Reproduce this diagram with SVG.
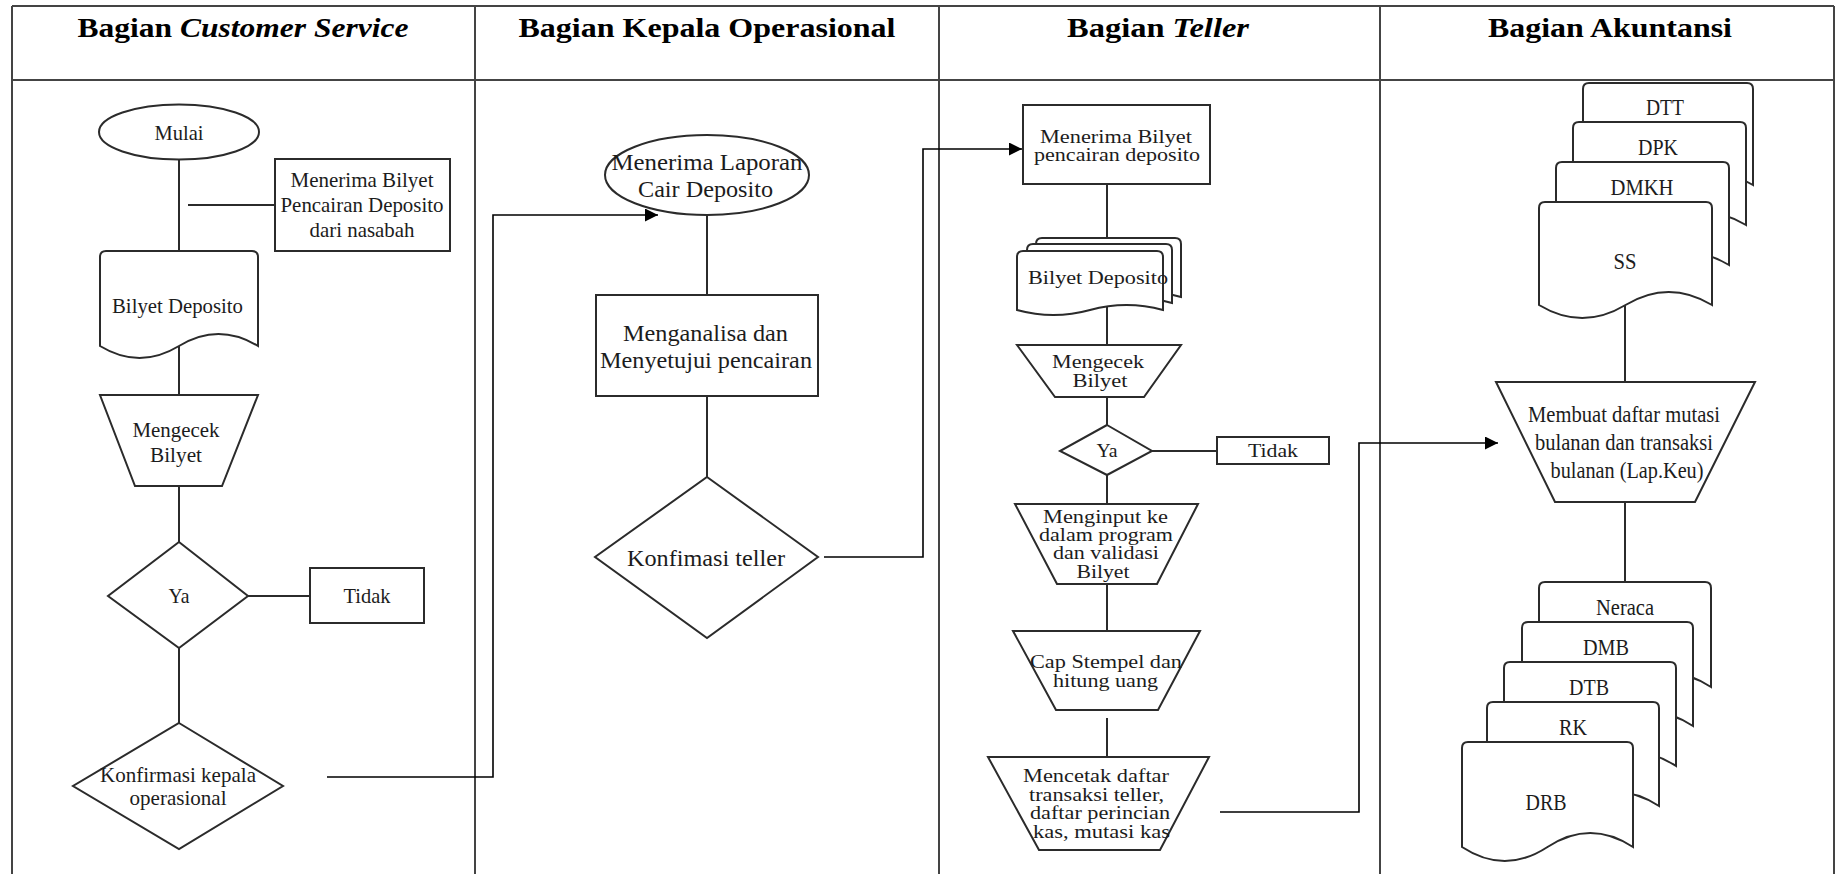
<svg xmlns="http://www.w3.org/2000/svg" width="1841" height="874" viewBox="0 0 1841 874">
  <style>
    .shape { fill: #fff; stroke: #2b2b2b; stroke-width: 2; }
    .line { fill: none; stroke: #2b2b2b; stroke-width: 2; }
    .conn { fill: none; stroke: #000; stroke-width: 1.6; }
    .grid { fill: none; stroke: #444; stroke-width: 2; }
    .t { font-family: "Liberation Serif", "Times New Roman", serif; fill: #1c1c1c; text-anchor: middle; }
    .h { font-family: "Liberation Serif", "Times New Roman", serif; font-weight: bold; font-size: 27px; fill: #000; text-anchor: middle; }
    .cs { font-size: 21px; }
    .ko { font-size: 24px; }
    .tl { font-size: 18px; }
    .ak { font-size: 23px; }
  </style>
  <defs>
    <marker id="arrow" viewBox="0 0 10 10" refX="10" refY="5" markerWidth="10" markerHeight="9" markerUnits="userSpaceOnUse" orient="auto">
      <path d="M0,0 L10,5 L0,10 Z" fill="#000"/>
    </marker>
    <marker id="arrowBig" viewBox="0 0 10 10" refX="10" refY="5" markerWidth="16" markerHeight="13" markerUnits="userSpaceOnUse" orient="auto">
      <path d="M0,0 L10,5 L0,10 Z" fill="#000"/>
    </marker>
  </defs>

  <rect width="1841" height="874" fill="#fff"/>

  <!-- swimlane table -->
  <g id="table">
    <line class="grid" x1="12" y1="6" x2="1834" y2="6"/>
    <line class="grid" x1="12" y1="80" x2="1834" y2="80"/>
    <line class="grid" x1="12" y1="6" x2="12" y2="874"/>
    <line class="grid" x1="475" y1="6" x2="475" y2="874"/>
    <line class="grid" x1="939" y1="6" x2="939" y2="874"/>
    <line class="grid" x1="1380" y1="6" x2="1380" y2="874"/>
    <line class="grid" x1="1834" y1="6" x2="1834" y2="874"/>
    <text class="h" x="243" y="37" textLength="331" lengthAdjust="spacingAndGlyphs">Bagian <tspan font-style="italic">Customer Service</tspan></text>
    <text class="h" x="707" y="37" textLength="377" lengthAdjust="spacingAndGlyphs">Bagian Kepala Operasional</text>
    <text class="h" x="1158" y="37" textLength="182" lengthAdjust="spacingAndGlyphs">Bagian <tspan font-style="italic">Teller</tspan></text>
    <text class="h" x="1610" y="37" textLength="244" lengthAdjust="spacingAndGlyphs">Bagian Akuntansi</text>
  </g>

  <!-- connectors -->
  <g id="connectors">
    <!-- customer service lane -->
    <line class="line" x1="179" y1="160" x2="179" y2="251"/>
    <line class="line" x1="188" y1="205" x2="275" y2="205"/>
    <line class="line" x1="179" y1="346" x2="179" y2="395"/>
    <line class="line" x1="179" y1="486" x2="179" y2="542"/>
    <line class="line" x1="248" y1="596" x2="310" y2="596"/>
    <line class="line" x1="179" y1="648" x2="179" y2="723"/>
    <!-- kepala operasional lane -->
    <line class="line" x1="707" y1="215" x2="707" y2="295"/>
    <line class="line" x1="707" y1="396" x2="707" y2="477"/>
    <!-- teller lane -->
    <line class="line" x1="1107" y1="184" x2="1107" y2="238"/>
    <line class="line" x1="1107" y1="307" x2="1107" y2="345"/>
    <line class="line" x1="1107" y1="397" x2="1107" y2="425"/>
    <line class="line" x1="1152" y1="451" x2="1217" y2="451"/>
    <line class="line" x1="1107" y1="475" x2="1107" y2="504"/>
    <line class="line" x1="1107" y1="584" x2="1107" y2="631"/>
    <line class="line" x1="1107" y1="718" x2="1107" y2="757"/>
    <!-- akuntansi lane -->
    <line class="line" x1="1625" y1="305" x2="1625" y2="382"/>
    <line class="line" x1="1625" y1="502" x2="1625" y2="582"/>
    <!-- cross-lane flows -->
    <path class="conn" d="M327,777 H493 V215 H658" marker-end="url(#arrowBig)"/>
    <path class="conn" d="M824,557 H923 V149 H1022" marker-end="url(#arrowBig)"/>
    <path class="conn" d="M1220,812 H1359 V443 H1498" marker-end="url(#arrowBig)"/>
  </g>

  <!-- Bagian Customer Service -->
  <g id="cs-mulai">
    <ellipse class="shape" cx="179" cy="132" rx="80" ry="27.5"/>
    <text class="t cs" x="179" y="140" textLength="49" lengthAdjust="spacingAndGlyphs">Mulai</text>
  </g>
  <g id="cs-terima">
    <rect class="shape" x="275" y="159" width="175" height="92"/>
    <text class="t cs" x="362" y="187" textLength="143" lengthAdjust="spacingAndGlyphs">Menerima Bilyet</text>
    <text class="t cs" x="362" y="212" textLength="163" lengthAdjust="spacingAndGlyphs">Pencairan Deposito</text>
    <text class="t cs" x="362" y="237" textLength="105" lengthAdjust="spacingAndGlyphs">dari nasabah</text>
  </g>
  <g id="cs-bilyet">
    <path class="shape" d="M100,346 V257 Q100,251 106,251 H252 Q258,251 258,257 V346 Q218.5,322 179,346 T100,346 Z"/>
    <text class="t cs" x="177.5" y="313" textLength="131" lengthAdjust="spacingAndGlyphs">Bilyet Deposito</text>
  </g>
  <g id="cs-cek">
    <path class="shape" d="M100,395 H258 L222,486 H135 Z"/>
    <text class="t cs" x="176" y="437" textLength="87" lengthAdjust="spacingAndGlyphs">Mengecek</text>
    <text class="t cs" x="176" y="462" textLength="52" lengthAdjust="spacingAndGlyphs">Bilyet</text>
  </g>
  <g id="cs-ya">
    <path class="shape" d="M179,542 L248,596 L179,648 L108,596 Z"/>
    <text class="t cs" x="179" y="603" textLength="21" lengthAdjust="spacingAndGlyphs">Ya</text>
  </g>
  <g id="cs-tidak">
    <rect class="shape" x="310" y="568" width="114" height="55"/>
    <text class="t cs" x="367" y="603" textLength="47" lengthAdjust="spacingAndGlyphs">Tidak</text>
  </g>
  <g id="cs-konfirmasi">
    <path class="shape" d="M179,723 L283,786 L179,849 L73,786 Z"/>
    <text class="t cs" x="178" y="782" textLength="156" lengthAdjust="spacingAndGlyphs">Konfirmasi kepala</text>
    <text class="t cs" x="178" y="805" textLength="97" lengthAdjust="spacingAndGlyphs">operasional</text>
  </g>

  <!-- Bagian Kepala Operasional -->
  <g id="ko-laporan">
    <ellipse class="shape" cx="707" cy="175" rx="102" ry="40"/>
    <text class="t ko" x="707" y="170" textLength="191" lengthAdjust="spacingAndGlyphs">Menerima Laporan</text>
    <text class="t ko" x="705.5" y="197" textLength="135" lengthAdjust="spacingAndGlyphs">Cair Deposito</text>
  </g>
  <g id="ko-analisa">
    <rect class="shape" x="596" y="295" width="222" height="101"/>
    <text class="t ko" x="705.5" y="341" textLength="165" lengthAdjust="spacingAndGlyphs">Menganalisa dan</text>
    <text class="t ko" x="706" y="368" textLength="212" lengthAdjust="spacingAndGlyphs">Menyetujui pencairan</text>
  </g>
  <g id="ko-konfirmasi">
    <path class="shape" d="M707,477 L818,557 L707,638 L595,557 Z"/>
    <text class="t ko" x="706" y="566" textLength="158" lengthAdjust="spacingAndGlyphs">Konfimasi teller</text>
  </g>

  <!-- Bagian Teller -->
  <g id="tl-terima">
    <rect class="shape" x="1023" y="105" width="187" height="79"/>
    <text class="t tl" x="1116" y="143" textLength="152" lengthAdjust="spacingAndGlyphs">Menerima Bilyet</text>
    <text class="t tl" x="1117" y="161" textLength="166" lengthAdjust="spacingAndGlyphs">pencairan deposito</text>
  </g>
  <g id="tl-bilyet">
    <path class="shape" d="M1036,297 V244 Q1036,238 1042,238 H1175 Q1181,238 1181,244 V297 Q1144.75,287 1108.5,297 T1036,297 Z"/>
    <path class="shape" d="M1027,303 V250 Q1027,244 1033,244 H1166 Q1172,244 1172,250 V303 Q1135.75,293 1099.5,303 T1027,303 Z"/>
    <path class="shape" d="M1017,310 V257 Q1017,251 1023,251 H1157 Q1163,251 1163,257 V310 Q1126.5,300 1090,310 T1017,310 Z"/>
    <text class="t tl" x="1098" y="284" textLength="140" lengthAdjust="spacingAndGlyphs">Bilyet Deposito</text>
  </g>
  <g id="tl-cek">
    <path class="shape" d="M1017,345 H1181 L1144,397 H1055 Z"/>
    <text class="t tl" x="1098" y="368" textLength="92" lengthAdjust="spacingAndGlyphs">Mengecek</text>
    <text class="t tl" x="1100" y="387" textLength="55" lengthAdjust="spacingAndGlyphs">Bilyet</text>
  </g>
  <g id="tl-ya">
    <path class="shape" d="M1107,425 L1152,451 L1107,475 L1060,451 Z"/>
    <text class="t tl" x="1107" y="457" textLength="21" lengthAdjust="spacingAndGlyphs">Ya</text>
  </g>
  <g id="tl-tidak">
    <rect class="shape" x="1217" y="437" width="112" height="27"/>
    <text class="t tl" x="1273" y="457" textLength="50" lengthAdjust="spacingAndGlyphs">Tidak</text>
  </g>
  <g id="tl-input">
    <path class="shape" d="M1015,504 H1198 L1157,584 H1057 Z"/>
    <text class="t tl" x="1105.5" y="523" textLength="125" lengthAdjust="spacingAndGlyphs">Menginput ke</text>
    <text class="t tl" x="1106" y="541" textLength="134" lengthAdjust="spacingAndGlyphs">dalam program</text>
    <text class="t tl" x="1106" y="559" textLength="106" lengthAdjust="spacingAndGlyphs">dan validasi</text>
    <text class="t tl" x="1103" y="578" textLength="53" lengthAdjust="spacingAndGlyphs">Bilyet</text>
  </g>
  <g id="tl-stempel">
    <path class="shape" d="M1013,631 H1200 L1158,710 H1056 Z"/>
    <text class="t tl" x="1106" y="668" textLength="152" lengthAdjust="spacingAndGlyphs">Cap Stempel dan</text>
    <text class="t tl" x="1105.5" y="687" textLength="105" lengthAdjust="spacingAndGlyphs">hitung uang</text>
  </g>
  <g id="tl-cetak">
    <path class="shape" d="M988,757 H1209 L1160,850 H1039 Z"/>
    <text class="t tl" x="1096" y="782" textLength="146" lengthAdjust="spacingAndGlyphs">Mencetak daftar</text>
    <text class="t tl" x="1096.5" y="801" textLength="135" lengthAdjust="spacingAndGlyphs">transaksi teller,</text>
    <text class="t tl" x="1100" y="819" textLength="140" lengthAdjust="spacingAndGlyphs">daftar perincian</text>
    <text class="t tl" x="1101.5" y="838" textLength="137" lengthAdjust="spacingAndGlyphs">kas, mutasi kas</text>
  </g>

  <!-- Bagian Akuntansi -->
  <g id="ak-dokumen-masuk">
    <path class="shape" d="M1583,185 V89 Q1583,83 1589,83 H1747 Q1753,83 1753,89 V185 Q1710.5,159 1668,185 T1583,185 Z"/>
    <text class="t ak" x="1665" y="115" textLength="38" lengthAdjust="spacingAndGlyphs">DTT</text>
    <path class="shape" d="M1573,225 V128 Q1573,122 1579,122 H1740 Q1746,122 1746,128 V225 Q1702.75,199 1659.5,225 T1573,225 Z"/>
    <text class="t ak" x="1658" y="155" textLength="40" lengthAdjust="spacingAndGlyphs">DPK</text>
    <path class="shape" d="M1556,265 V168 Q1556,162 1562,162 H1723 Q1729,162 1729,168 V265 Q1685.75,239 1642.5,265 T1556,265 Z"/>
    <text class="t ak" x="1642" y="195" textLength="63" lengthAdjust="spacingAndGlyphs">DMKH</text>
    <path class="shape" d="M1539,305 V208 Q1539,202 1545,202 H1706 Q1712,202 1712,208 V305 Q1668.75,279 1625.5,305 T1539,305 Z"/>
    <text class="t ak" x="1625" y="269" textLength="23" lengthAdjust="spacingAndGlyphs">SS</text>
  </g>
  <g id="ak-laporan">
    <path class="shape" d="M1496,382 H1755 L1695,502 H1555 Z"/>
    <text class="t ak" x="1624" y="422" textLength="192" lengthAdjust="spacingAndGlyphs">Membuat daftar mutasi</text>
    <text class="t ak" x="1624" y="450" textLength="178" lengthAdjust="spacingAndGlyphs">bulanan dan transaksi</text>
    <text class="t ak" x="1627" y="478" textLength="153" lengthAdjust="spacingAndGlyphs">bulanan (Lap.Keu)</text>
  </g>
  <g id="ak-dokumen-keluar">
    <path class="shape" d="M1539,687 V588 Q1539,582 1545,582 H1705 Q1711,582 1711,588 V687 Q1668,659 1625,687 T1539,687 Z"/>
    <text class="t ak" x="1625" y="615" textLength="58" lengthAdjust="spacingAndGlyphs">Neraca</text>
    <path class="shape" d="M1522,726 V628 Q1522,622 1528,622 H1687 Q1693,622 1693,628 V726 Q1650.25,698 1607.5,726 T1522,726 Z"/>
    <text class="t ak" x="1606" y="655" textLength="46" lengthAdjust="spacingAndGlyphs">DMB</text>
    <path class="shape" d="M1504,766 V668 Q1504,662 1510,662 H1670 Q1676,662 1676,668 V766 Q1633,738 1590,766 T1504,766 Z"/>
    <text class="t ak" x="1589" y="695" textLength="40" lengthAdjust="spacingAndGlyphs">DTB</text>
    <path class="shape" d="M1487,806 V708 Q1487,702 1493,702 H1653 Q1659,702 1659,708 V806 Q1616,778 1573,806 T1487,806 Z"/>
    <text class="t ak" x="1573" y="735" textLength="28" lengthAdjust="spacingAndGlyphs">RK</text>
    <path class="shape" d="M1462,847 V748 Q1462,742 1468,742 H1627 Q1633,742 1633,748 V847 Q1590.25,819 1547.5,847 T1462,847 Z"/>
    <text class="t ak" x="1546" y="810" textLength="41" lengthAdjust="spacingAndGlyphs">DRB</text>
  </g>
</svg>
